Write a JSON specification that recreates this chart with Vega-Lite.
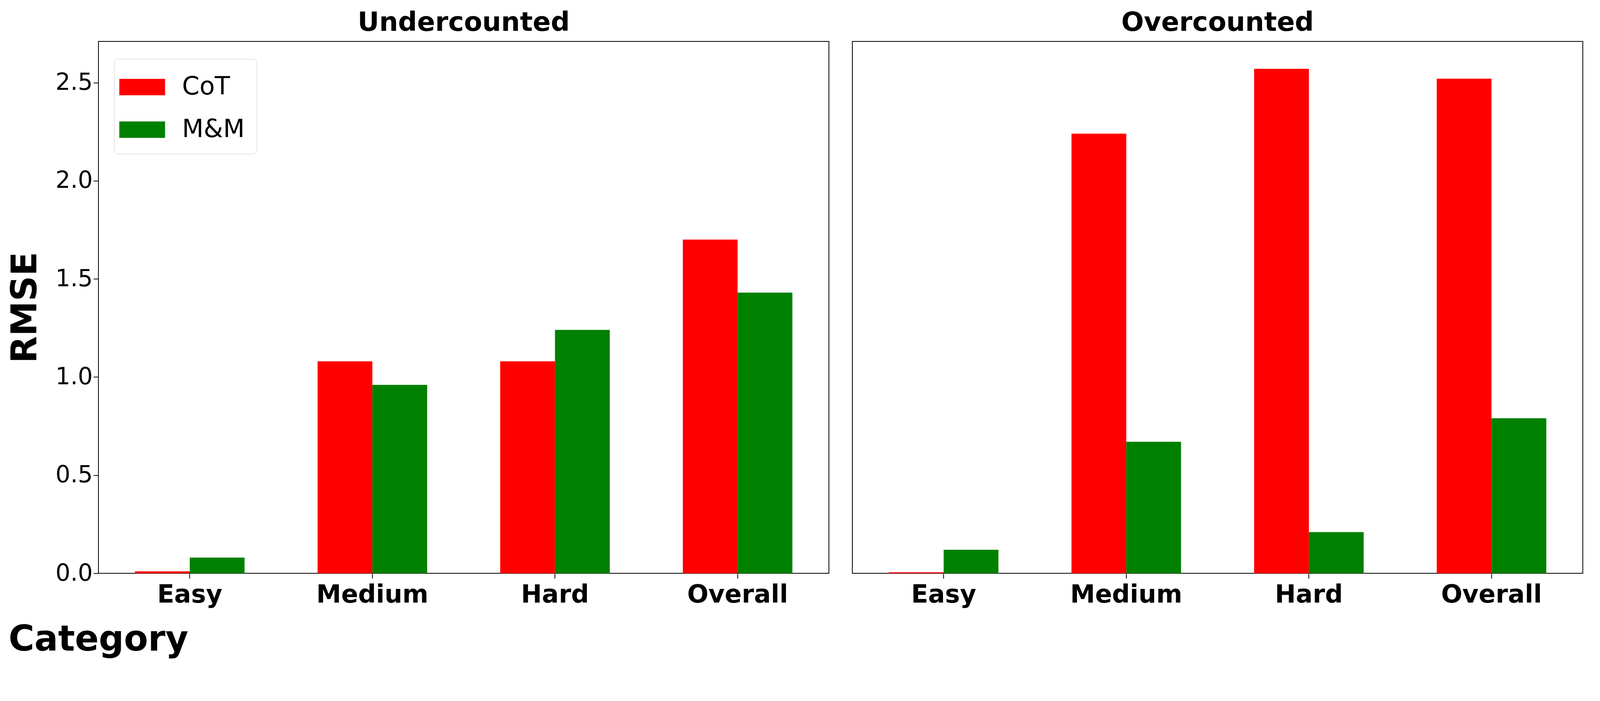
{
  "$schema": "https://vega.github.io/schema/vega-lite/v6.json",
  "padding": {"left": 20, "top": 25, "right": 30, "bottom": 10},
  "background": "white",
  "data": {"values": [
    {"panel": "Undercounted", "category": "Easy", "method": "CoT", "rmse": 0.01},
    {"panel": "Undercounted", "category": "Easy", "method": "M&M", "rmse": 0.08},
    {"panel": "Undercounted", "category": "Medium", "method": "CoT", "rmse": 1.08},
    {"panel": "Undercounted", "category": "Medium", "method": "M&M", "rmse": 0.96},
    {"panel": "Undercounted", "category": "Hard", "method": "CoT", "rmse": 1.08},
    {"panel": "Undercounted", "category": "Hard", "method": "M&M", "rmse": 1.24},
    {"panel": "Undercounted", "category": "Overall", "method": "CoT", "rmse": 1.70},
    {"panel": "Undercounted", "category": "Overall", "method": "M&M", "rmse": 1.43},
    {"panel": "Overcounted", "category": "Easy", "method": "CoT", "rmse": 0.005},
    {"panel": "Overcounted", "category": "Easy", "method": "M&M", "rmse": 0.12},
    {"panel": "Overcounted", "category": "Medium", "method": "CoT", "rmse": 2.24},
    {"panel": "Overcounted", "category": "Medium", "method": "M&M", "rmse": 0.67},
    {"panel": "Overcounted", "category": "Hard", "method": "CoT", "rmse": 2.57},
    {"panel": "Overcounted", "category": "Hard", "method": "M&M", "rmse": 0.21},
    {"panel": "Overcounted", "category": "Overall", "method": "CoT", "rmse": 2.52},
    {"panel": "Overcounted", "category": "Overall", "method": "M&M", "rmse": 0.79}
  ]},
  "title": {"text": "Category", "orient": "bottom", "anchor": "middle", "frame": "group", "fontSize": 90, "fontWeight": "bold", "font": "DejaVu Sans", "offset": 40},
  "facet": {"column": {"field": "panel", "sort": ["Undercounted", "Overcounted"],
    "header": {"title": null, "labelFontSize": 68, "labelFontWeight": "bold", "labelFont": "DejaVu Sans", "labelPadding": 12}}},
  "spacing": 58,
  "spec": {
    "width": 1870,
    "height": 1362,
    "mark": {"type": "bar"},
    "encoding": {
      "x": {"field": "category", "type": "nominal", "sort": ["Easy", "Medium", "Hard", "Overall"],
        "scale": {"paddingInner": 0.4, "paddingOuter": 0.2},
        "axis": {"title": null, "labelAngle": 0, "labelFontSize": 64, "labelFontWeight": "bold", "labelFont": "DejaVu Sans", "labelLimit": 0, "tickSize": 12, "tickWidth": 2, "tickColor": "black", "domain": false, "labelPadding": 10}},
      "xOffset": {"field": "method", "type": "nominal", "sort": ["CoT", "M&M"]},
      "y": {"field": "rmse", "type": "quantitative", "scale": {"domain": [0, 2.71], "nice": false},
        "axis": {"title": "RMSE", "titleFontSize": 90, "titleFontWeight": "bold", "titleFont": "DejaVu Sans", "titlePadding": 30,
          "values": [0, 0.5, 1, 1.5, 2, 2.5], "format": ".1f", "grid": false, "labelFontSize": 60, "labelFont": "DejaVu Sans", "labelColor": "black",
          "tickSize": 12, "tickWidth": 2, "tickColor": "black", "domain": false}},
      "color": {"field": "method", "type": "nominal", "sort": ["CoT", "M&M"],
        "scale": {"domain": ["CoT", "M&M"], "range": ["#ff0000", "#008000"]},
        "legend": {"title": null, "orient": "none", "legendX": 40, "legendY": 45, "symbolType": "M-1.4,-0.5H1.4V0.5H-1.4Z", "symbolSize": 7000,
          "labelFontSize": 64, "labelFont": "DejaVu Sans", "labelLimit": 0, "rowPadding": 35, "padding": 30, "strokeColor": "#cccccc", "fillColor": "white", "cornerRadius": 10, "labelOffset": 60, "symbolStrokeWidth": 0}}
    }
  },
  "config": {"view": {"stroke": "black", "strokeWidth": 2}}
}
